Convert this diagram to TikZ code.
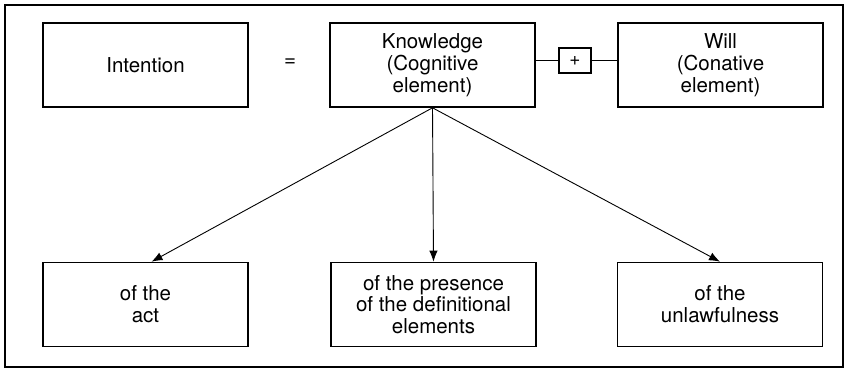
\documentclass[tikz,border=0pt]{standalone}
\usepackage{fontspec}
\setmainfont{TeX Gyre Heros}
\usepackage{tikz}
\usetikzlibrary{arrows.meta}

\begin{document}
\begin{tikzpicture}[x=1pt,y=-1pt,
  box/.style={draw,line width=1.6pt,minimum width=205pt,minimum height=84pt,
    inner sep=0pt,align=center,font=\fontsize{20.5}{21.8}\selectfont},
  plusbox/.style={draw,line width=1.6pt,minimum width=32pt,minimum height=25pt,
    inner sep=0pt,font=\fontsize{19}{19}\selectfont},
  link/.style={line width=0.9pt,-{Latex[length=11pt,width=8.5pt]}}]
  \useasboundingbox (0,0) rectangle (850,370);
  \draw[line width=1.3pt] (5,5) rectangle (843,367);
  % top row
  \node[box] (intention) at (145.5,65) {Intention};
  \node[font=\fontsize{20.5}{20.5}\selectfont] (equals) at (290,63) {=};
  \node[box] (knowledge) at (432.5,65) {Knowledge\\(Cognitive\\element)};
  \node[plusbox] (plus) at (575,60.5) {+};
  \node[box] (will) at (720.5,65) {Will\\(Conative\\element)};
  \draw[line width=1.6pt] (plus.west) -- (plus.west -| knowledge.east);
  \draw[line width=1.6pt] (plus.east) -- (plus.east -| will.west);
  % bottom row
  \node[box] (act) at (145.5,304.5) {of the\\act};
  \node[box] (presence) at (433.5,304.5) {of the presence\\of the definitional\\elements};
  \node[box] (unlawful) at (720,304.5) {of the\\unlawfulness};
  \draw[link] (knowledge.south) -- ([xshift=6pt]act.north);
  \draw[link] (knowledge.south) -- (presence.north);
  \draw[link] (knowledge.south) -- (unlawful.north);
\end{tikzpicture}
\end{document}
